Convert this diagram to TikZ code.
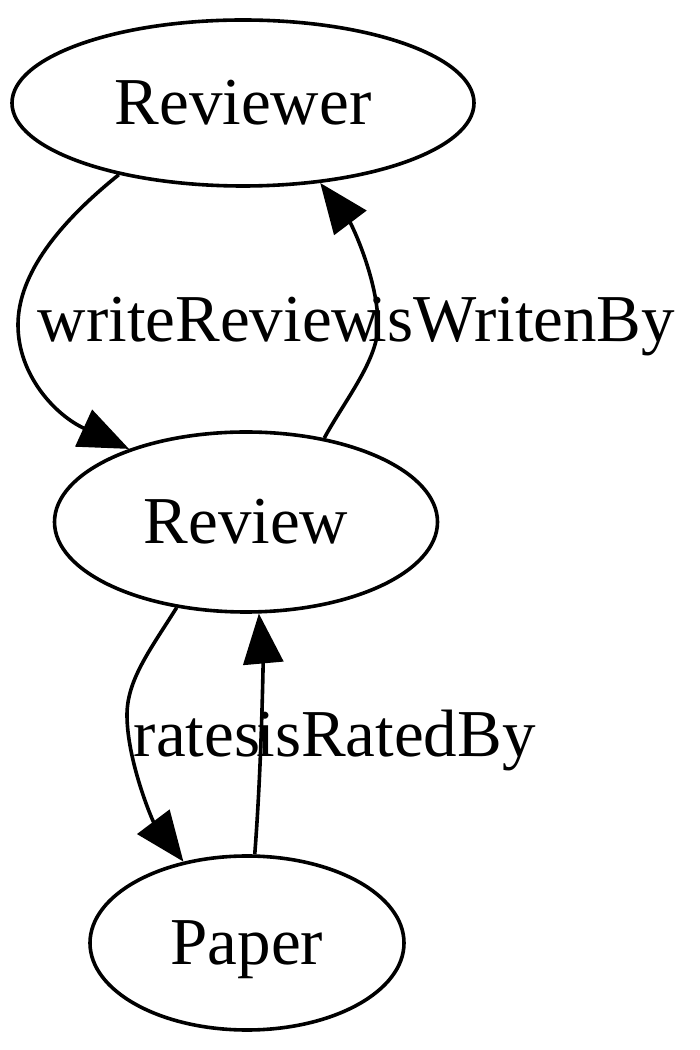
\documentclass[tikz,border=0pt]{standalone}
\usepackage{fontspec}
\setmainfont{Liberation Serif}
\usetikzlibrary{shapes.geometric,arrows.meta}
\begin{document}
\begin{tikzpicture}[x=1pt,y=1pt,
  every node/.style={font=\fontsize{67}{80}\selectfont},
  entity/.style={ellipse,draw,line width=3.6pt,inner sep=0pt,text height=44pt,text depth=0pt},
  rel/.style={line width=3.6pt,-{Triangle[length=50pt,width=40pt]}},
  lbl/.style={anchor=base,inner sep=0pt}]
\useasboundingbox (0,0) rectangle (700,1050);
\node[entity,minimum width=462pt,minimum height=166pt] (rv) at (243,947) {Reviewer};
\node[entity,minimum width=383pt,minimum height=180pt] (rw) at (246,528) {Review};
\node[entity,minimum width=314pt,minimum height=174pt] (pp) at (247,107) {Paper};
\draw[rel] (rv.210) .. controls (50,820) and (18,770) .. (18,725)
  .. controls (18,675) and (55,635) .. (rw.148);
\draw[rel] (rw.47) .. controls (345,650) and (378,690) .. (378,725)
  .. controls (378,770) and (352,825) .. (rv.314);
\draw[rel] (rw.231) .. controls (150,400) and (127,370) .. (127,335)
  .. controls (127,290) and (152,230) .. (pp.128);
\draw[rel] (pp.85) .. controls (262,290) and (263,390) .. (rw.278);
\node[lbl] (l1) at (209,708) {writeReview};
\node[lbl] (l2) at (522,708) {isWritenBy};
\node[lbl] (l3) at (197,293) {rates};
\node[lbl] (l4) at (396,293) {isRatedBy};
\end{tikzpicture}
\end{document}
